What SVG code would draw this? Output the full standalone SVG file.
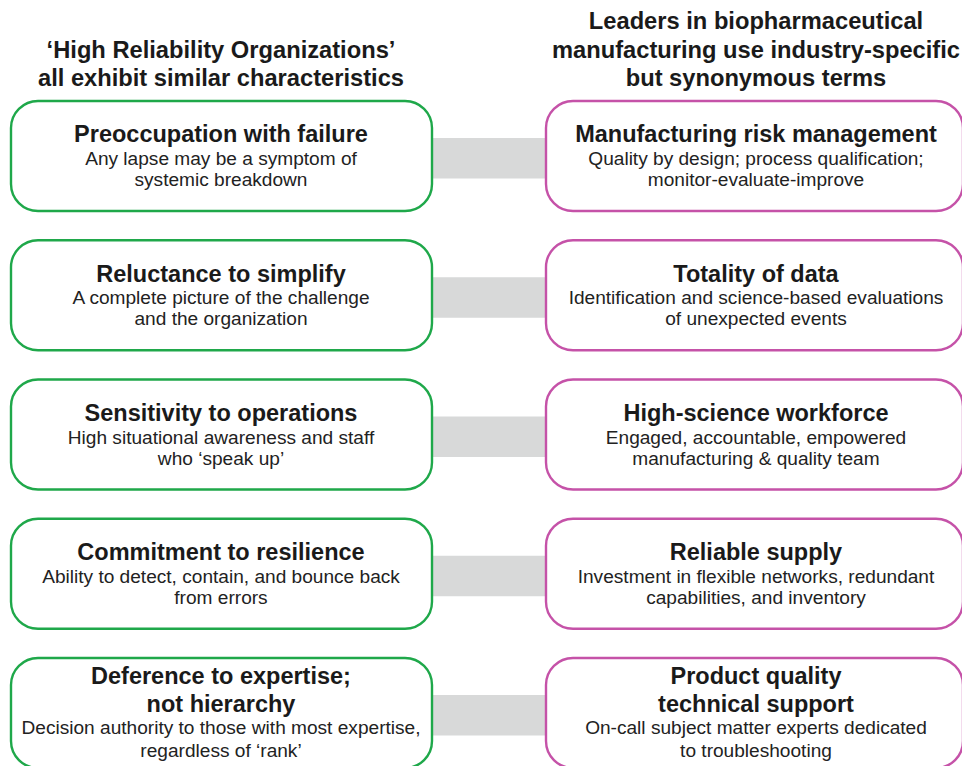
<svg xmlns="http://www.w3.org/2000/svg" width="962" height="766" viewBox="0 0 962 766">
  <style>
    .bg { fill: #ffffff; }
    .head { font-family: "Liberation Sans", Arial, sans-serif; font-weight: bold; font-size: 23.7px; fill: #1a1a1a; text-anchor: middle; }
    .hro { fill: #ffffff; stroke: #1fa84a; stroke-width: 2.4; }
    .bio { fill: #ffffff; stroke: #c552a8; stroke-width: 2.4; }
    .title { font-family: "Liberation Sans", Arial, sans-serif; font-weight: bold; font-size: 23.5px; fill: #1a1a1a; text-anchor: middle; }
    .sub { font-family: "Liberation Sans", Arial, sans-serif; font-size: 19.1px; fill: #222222; text-anchor: middle; }
    .link { fill: #d8d9d9; }
  </style>
  <rect class="bg" x="0" y="0" width="962" height="766"/>

  <!-- column headings -->
  <g id="heading-left">
    <text class="head"><tspan x="221" y="57.5">‘High Reliability Organizations’</tspan><tspan x="221" y="86">all exhibit similar characteristics</tspan></text>
  </g>
  <g id="heading-right">
    <text class="head"><tspan x="756" y="29">Leaders in biopharmaceutical</tspan><tspan x="756" y="57.5">manufacturing use industry-specific</tspan><tspan x="756" y="86">but synonymous terms</tspan></text>
  </g>

  <!-- grey bars pairing each characteristic with its industry term -->
  <g id="connectors">
    <rect class="link" x="430" y="138" width="118" height="40.5"/>
    <rect class="link" x="430" y="277.25" width="118" height="40.5"/>
    <rect class="link" x="430" y="416.5" width="118" height="40.5"/>
    <rect class="link" x="430" y="555.75" width="118" height="40.5"/>
    <rect class="link" x="430" y="695" width="118" height="40.5"/>
  </g>

  <!-- left column: HRO characteristics -->
  <g id="hro-preoccupation">
    <rect class="hro" x="11" y="101" width="421" height="110" rx="27"/>
    <text class="title" x="221" y="141.7">Preoccupation with failure</text>
    <text class="sub"><tspan x="221" y="165">Any lapse may be a symptom of</tspan><tspan x="221" y="186">systemic breakdown</tspan></text>
  </g>
  <g id="hro-reluctance">
    <rect class="hro" x="11" y="240.25" width="421" height="110" rx="27"/>
    <text class="title" x="221" y="281.5">Reluctance to simplify</text>
    <text class="sub"><tspan x="221" y="304.25">A complete picture of the challenge</tspan><tspan x="221" y="325.25">and the organization</tspan></text>
  </g>
  <g id="hro-sensitivity">
    <rect class="hro" x="11" y="379.5" width="421" height="110" rx="27"/>
    <text class="title" x="221" y="420.5">Sensitivity to operations</text>
    <text class="sub"><tspan x="221" y="443.5">High situational awareness and staff</tspan><tspan x="221" y="464.5">who ‘speak up’</tspan></text>
  </g>
  <g id="hro-resilience">
    <rect class="hro" x="11" y="518.75" width="421" height="110" rx="27"/>
    <text class="title" x="221" y="559.75">Commitment to resilience</text>
    <text class="sub"><tspan x="221" y="582.75">Ability to detect, contain, and bounce back</tspan><tspan x="221" y="603.75">from errors</tspan></text>
  </g>
  <g id="hro-deference">
    <rect class="hro" x="11" y="658" width="421" height="110" rx="27"/>
    <text class="title"><tspan x="221" y="684.3">Deference to expertise;</tspan><tspan x="221" y="712.3">not hierarchy</tspan></text>
    <text class="sub"><tspan x="221" y="734">Decision authority to those with most expertise,</tspan><tspan x="221" y="757">regardless of ‘rank’</tspan></text>
  </g>

  <!-- right column: biopharmaceutical manufacturing terms -->
  <g id="bio-risk">
    <rect class="bio" x="546" y="101" width="417" height="110" rx="27"/>
    <text class="title" x="756" y="141.7">Manufacturing risk management</text>
    <text class="sub"><tspan x="756" y="165">Quality by design; process qualification;</tspan><tspan x="756" y="186">monitor-evaluate-improve</tspan></text>
  </g>
  <g id="bio-data">
    <rect class="bio" x="546" y="240.25" width="417" height="110" rx="27"/>
    <text class="title" x="756" y="281.5">Totality of data</text>
    <text class="sub"><tspan x="756" y="304.25">Identification and science-based evaluations</tspan><tspan x="756" y="325.25">of unexpected events</tspan></text>
  </g>
  <g id="bio-workforce">
    <rect class="bio" x="546" y="379.5" width="417" height="110" rx="27"/>
    <text class="title" x="756" y="420.5">High-science workforce</text>
    <text class="sub"><tspan x="756" y="443.5">Engaged, accountable, empowered</tspan><tspan x="756" y="464.5">manufacturing &amp; quality team</tspan></text>
  </g>
  <g id="bio-supply">
    <rect class="bio" x="546" y="518.75" width="417" height="110" rx="27"/>
    <text class="title" x="756" y="559.75">Reliable supply</text>
    <text class="sub"><tspan x="756" y="582.75">Investment in flexible networks, redundant</tspan><tspan x="756" y="603.75">capabilities, and inventory</tspan></text>
  </g>
  <g id="bio-support">
    <rect class="bio" x="546" y="658" width="417" height="110" rx="27"/>
    <text class="title"><tspan x="756" y="684.3">Product quality</tspan><tspan x="756" y="712.3">technical support</tspan></text>
    <text class="sub"><tspan x="756" y="734">On-call subject matter experts dedicated</tspan><tspan x="756" y="757">to troubleshooting</tspan></text>
  </g>
</svg>
